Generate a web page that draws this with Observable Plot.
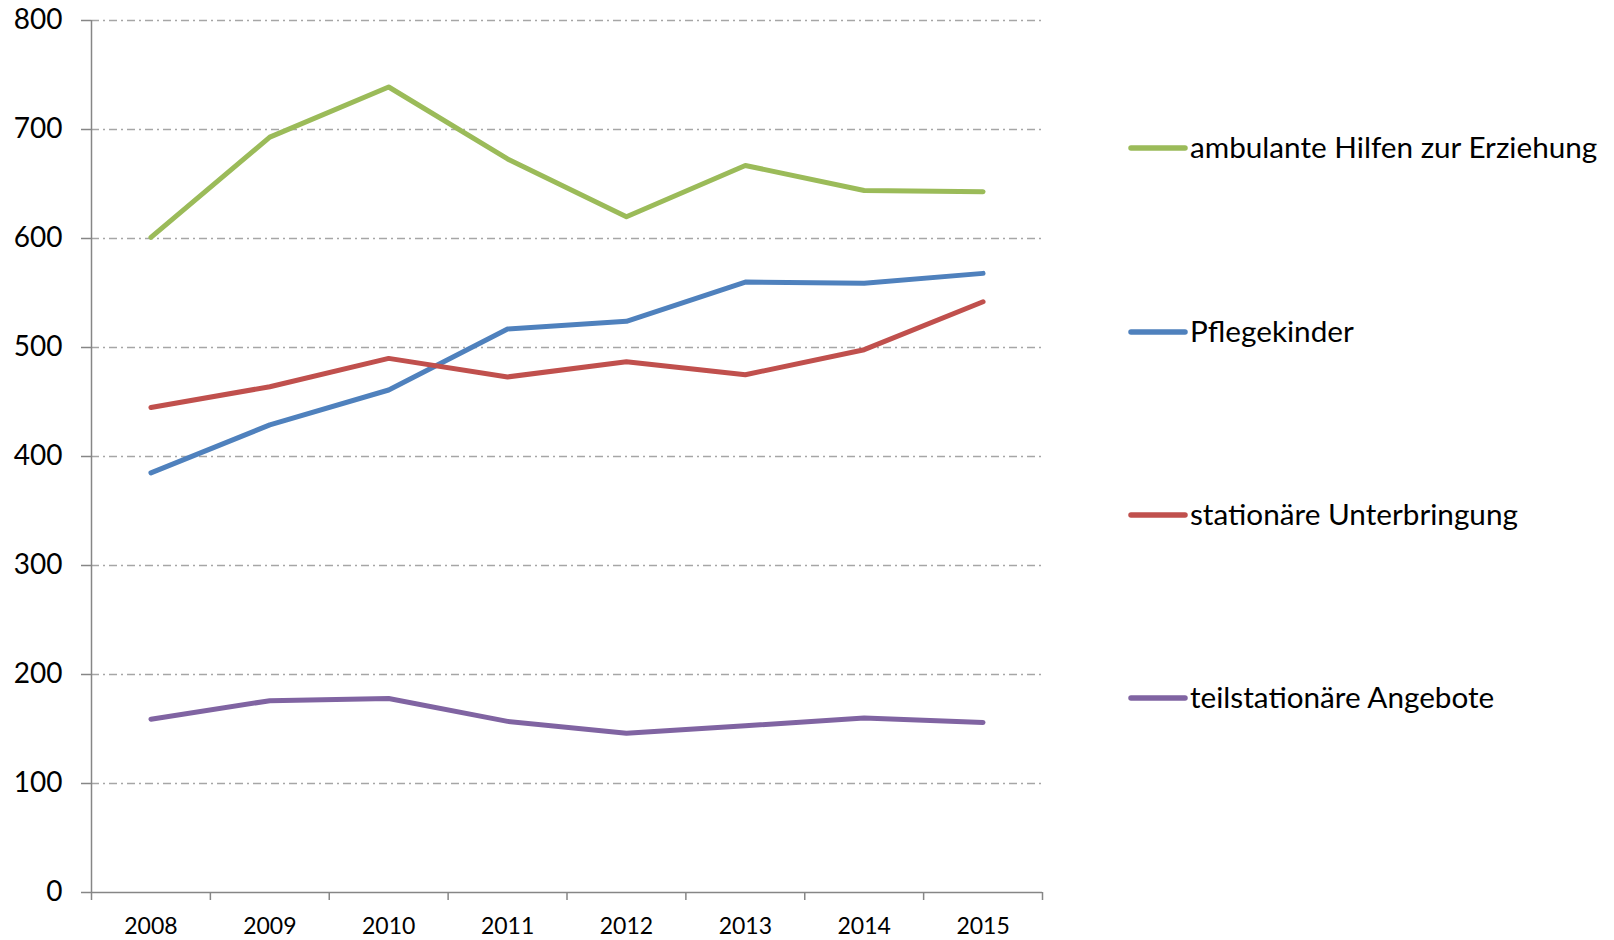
<!DOCTYPE html>
<html>
<head>
<meta charset="utf-8">
<script src="https://cdn.jsdelivr.net/npm/d3@7"></script>
<script src="https://cdn.jsdelivr.net/npm/@observablehq/plot@0.6"></script>
<style>
  html, body { margin: 0; padding: 0; background: #fff; }
  #chart { width: 1614px; height: 940px; }
</style>
</head>
<body>
<div id="chart"></div>
<script>
const years = [2008, 2009, 2010, 2011, 2012, 2013, 2014, 2015];
const seriesNames = ["ambulante Hilfen zur Erziehung", "Pflegekinder", "stationäre Unterbringung", "teilstationäre Angebote"];
const seriesColors = ["#9BBB59", "#4F81BD", "#C0504D", "#8064A2"];
const ambulante = [601, 693, 739, 673, 620, 667, 644, 643];
const pflegekinder = [385, 429, 461, 517, 524, 560, 559, 568];
const stationaer = [445, 464, 490, 473, 487, 475, 498, 542];
const teilstationaer = [159, 176, 178, 157, 146, 153, 160, 156];
const yTicks = [0, 100, 200, 300, 400, 500, 600, 700, 800];

const valuesBySeries = [ambulante, pflegekinder, stationaer, teilstationaer];
const data = [];
seriesNames.forEach((name, i) => {
  years.forEach((yr, j) => data.push({series: name, year: yr, value: valuesBySeries[i][j]}));
});
const boundaries = [years[0] - 0.5, ...years.map(y => y + 0.5)];

const font = "Lato, 'Open Sans', sans-serif";
const axisColor = "#868686";

const plot = Plot.plot({
  width: 1614,
  height: 940,
  marginLeft: 91,
  marginRight: 572,
  marginTop: 20,
  marginBottom: 48,
  style: {fontFamily: font, background: "#fff"},
  x: {domain: [boundaries[0], boundaries[boundaries.length - 1]]},
  y: {domain: [0, 800]},
  color: {domain: seriesNames, range: seriesColors},
  marks: [
    Plot.ruleY(yTicks.filter(d => d > 0), {stroke: "#A6A6A6", strokeWidth: 1.5, strokeDasharray: "8,4,2,4"}),
    Plot.axisY({ticks: yTicks, tickSize: 10, tickPadding: 19, tickFormat: d => String(d), fontSize: 28, color: "#000", stroke: axisColor, strokeWidth: 1.5, label: null}),
    Plot.axisX({ticks: boundaries, tickSize: 8, tickFormat: () => "", stroke: axisColor, strokeWidth: 1.5, label: null}),
    Plot.axisX({ticks: years, tickSize: 0, tickPadding: 25, tickFormat: d => String(d), fontSize: 23, color: "#000", label: null}),
    Plot.ruleX([boundaries[0]], {stroke: axisColor, strokeWidth: 1.5}),
    Plot.ruleY([0], {stroke: axisColor, strokeWidth: 1.5}),
    Plot.line(data, {x: "year", y: "value", z: "series", stroke: "series", strokeWidth: 5, strokeLinejoin: "round", strokeLinecap: "round"})
  ]
});

// Legend to the right of the plot area
const svg = d3.select(plot);
const legendY = [148, 332, 515, 698];
const lg = svg.append("g").attr("font-family", font).attr("font-size", 29.7).attr("text-anchor", "start");
seriesNames.forEach((name, i) => {
  lg.append("line")
    .attr("x1", 1131).attr("x2", 1185)
    .attr("y1", legendY[i]).attr("y2", legendY[i])
    .attr("stroke", seriesColors[i]).attr("stroke-width", 5.5).attr("stroke-linecap", "round");
  lg.append("text")
    .attr("x", 1190).attr("y", legendY[i] + 10)
    .attr("text-anchor", "start")
    .attr("fill", "#000")
    .text(name);
});

document.getElementById("chart").appendChild(plot);
</script>
</body>
</html>
